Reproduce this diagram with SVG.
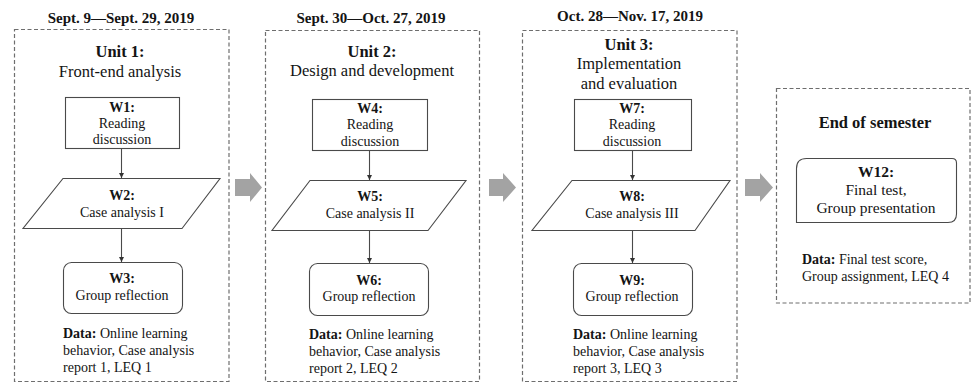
<svg xmlns="http://www.w3.org/2000/svg" width="972" height="383" viewBox="0 0 972 383" font-family="'Liberation Serif', 'Times New Roman', serif">
<defs>
<style>
svg, g, text, tspan{font-family:'Liberation Serif','Times New Roman',Times,serif;}
text{fill:#141414;}
.t{font-size:15px;font-weight:bold;text-anchor:middle;}
.h{font-size:16.5px;text-anchor:middle;}
.hb{font-size:16.5px;font-weight:bold;text-anchor:middle;}
.n{font-size:14px;text-anchor:middle;}
.nb{font-size:14px;font-weight:bold;text-anchor:middle;}
.d{font-size:14px;}
.frame{fill:none;stroke:#6e6e6e;stroke-width:1.2;stroke-dasharray:4 2.5;}
.box{fill:#fff;stroke:#4a4a4a;stroke-width:1.1;}
.ln{fill:none;stroke:#4a4a4a;stroke-width:1.1;marker-end:url(#ah);}
.blk{fill:#a3a3a3;}
</style>
<marker id="ah" viewBox="0 0 8 8" refX="8" refY="4" markerWidth="5" markerHeight="5" markerUnits="userSpaceOnUse" orient="auto">
<path d="M0,0 L8,4 L0,8 Z" fill="#333"/>
</marker>
</defs>
<rect width="972" height="383" fill="#fff"/>

<g id="unit1">
<text class="t" x="121" y="22.5">Sept. 9—Sept. 29, 2019</text>
<rect class="frame" x="14.5" y="29.5" width="214.5" height="352"/>
<text class="hb" x="120" y="57">Unit 1:</text>
<text class="h" x="120" y="76.5">Front-end analysis</text>
<text class="d" x="63" y="338"><tspan font-weight="bold">Data:</tspan> Online learning</text>
<text class="d" x="63" y="355">behavior, Case analysis</text>
<text class="d" x="63" y="372">report 1, LEQ 1</text>
</g>
<g id="w1">
<rect class="box" x="65.5" y="97.5" width="114" height="51"/>
<text class="nb" x="122" y="112">W1:</text>
<text class="n" x="122" y="128">Reading</text>
<text class="n" x="122" y="144">discussion</text>
</g>
<g id="w2">
<polygon class="box" points="63,178.5 220,178.5 182,228.5 23,228.5"/>
<text class="nb" x="122" y="200">W2:</text>
<text class="n" x="122" y="217">Case analysis I</text>
</g>
<g id="w3">
<rect class="box" x="63.5" y="262.5" width="119" height="51" rx="8"/>
<text class="nb" x="122" y="283">W3:</text>
<text class="n" x="122" y="300">Group reflection</text>
</g>

<g id="unit2">
<text class="t" x="371" y="22.5">Sept. 30—Oct. 27, 2019</text>
<rect class="frame" x="265.5" y="30.5" width="214" height="351"/>
<text class="hb" x="372" y="56.5">Unit 2:</text>
<text class="h" x="372" y="76">Design and development</text>
<text class="d" x="309" y="339"><tspan font-weight="bold">Data:</tspan> Online learning</text>
<text class="d" x="309" y="356">behavior, Case analysis</text>
<text class="d" x="309" y="373">report 2, LEQ 2</text>
</g>
<g id="w4">
<rect class="box" x="312.5" y="99.5" width="115" height="51"/>
<text class="nb" x="370" y="112.5">W4:</text>
<text class="n" x="370" y="129">Reading</text>
<text class="n" x="370" y="145.5">discussion</text>
</g>
<g id="w5">
<polygon class="box" points="310,180.5 466,180.5 428,230.5 272,230.5"/>
<text class="nb" x="370" y="200.5">W5:</text>
<text class="n" x="370" y="217.5">Case analysis II</text>
</g>
<g id="w6">
<rect class="box" x="309.5" y="263.5" width="119" height="52" rx="8"/>
<text class="nb" x="369" y="284.5">W6:</text>
<text class="n" x="369" y="300.5">Group reflection</text>
</g>

<g id="unit3">
<text class="t" x="630" y="21">Oct. 28—Nov. 17, 2019</text>
<rect class="frame" x="522.5" y="30.5" width="214.5" height="351"/>
<text class="hb" x="629" y="50">Unit 3:</text>
<text class="h" x="629" y="69">Implementation</text>
<text class="h" x="629" y="88.5">and evaluation</text>
<text class="d" x="573" y="339"><tspan font-weight="bold">Data:</tspan> Online learning</text>
<text class="d" x="573" y="356">behavior, Case analysis</text>
<text class="d" x="573" y="373">report 3, LEQ 3</text>
</g>
<g id="w7">
<rect class="box" x="574.5" y="99.5" width="117" height="51"/>
<text class="nb" x="632" y="113">W7:</text>
<text class="n" x="632" y="129">Reading</text>
<text class="n" x="632" y="145.5">discussion</text>
</g>
<g id="w8">
<polygon class="box" points="572,180.5 730,180.5 695,230.5 532,230.5"/>
<text class="nb" x="632" y="200.5">W8:</text>
<text class="n" x="632" y="217.5">Case analysis III</text>
</g>
<g id="w9">
<rect class="box" x="573.5" y="263.5" width="119" height="52" rx="8"/>
<text class="nb" x="632" y="284.5">W9:</text>
<text class="n" x="632" y="300.5">Group reflection</text>
</g>

<g id="end">
<rect class="frame" x="776.5" y="88.5" width="193.5" height="214.5"/>
<text class="hb" x="875" y="128">End of semester</text>
<text class="d" x="802" y="264"><tspan font-weight="bold">Data:</tspan> Final test score,</text>
<text class="d" x="802" y="281">Group assignment, LEQ 4</text>
</g>
<g id="w12">
<path class="box" d="M806.5,158.5 H952 Q956.5,158.5 956.5,163 V214 Q956.5,222.5 948,222.5 H796.5 V168.5 Q796.5,158.5 806.5,158.5 Z"/>
<text x="876" y="177" style="font-size:15.5px;font-weight:bold;text-anchor:middle">W12:</text>
<text x="876" y="195" style="font-size:15.5px;text-anchor:middle">Final test,</text>
<text x="876" y="213" style="font-size:15.5px;text-anchor:middle">Group presentation</text>
</g>

<g id="connectors">
<path class="ln" d="M121.5,148.5 V178"/>
<path class="ln" d="M121.5,228.5 V262"/>
<path class="ln" d="M369.5,150.5 V180"/>
<path class="ln" d="M369.5,230.5 V263"/>
<path class="ln" d="M632.5,150.5 V180"/>
<path class="ln" d="M632.5,230.5 V263"/>
<path class="blk" d="M235,179 H250 V173 L262,187.5 L250,202 V196 H235 Z"/>
<path class="blk" d="M489,179 H503 V173 L516,187.5 L503,202 V196 H489 Z"/>
<path class="blk" d="M745,179 H760 V173 L773,187.5 L760,202 V196 H745 Z"/>
</g>
</svg>
